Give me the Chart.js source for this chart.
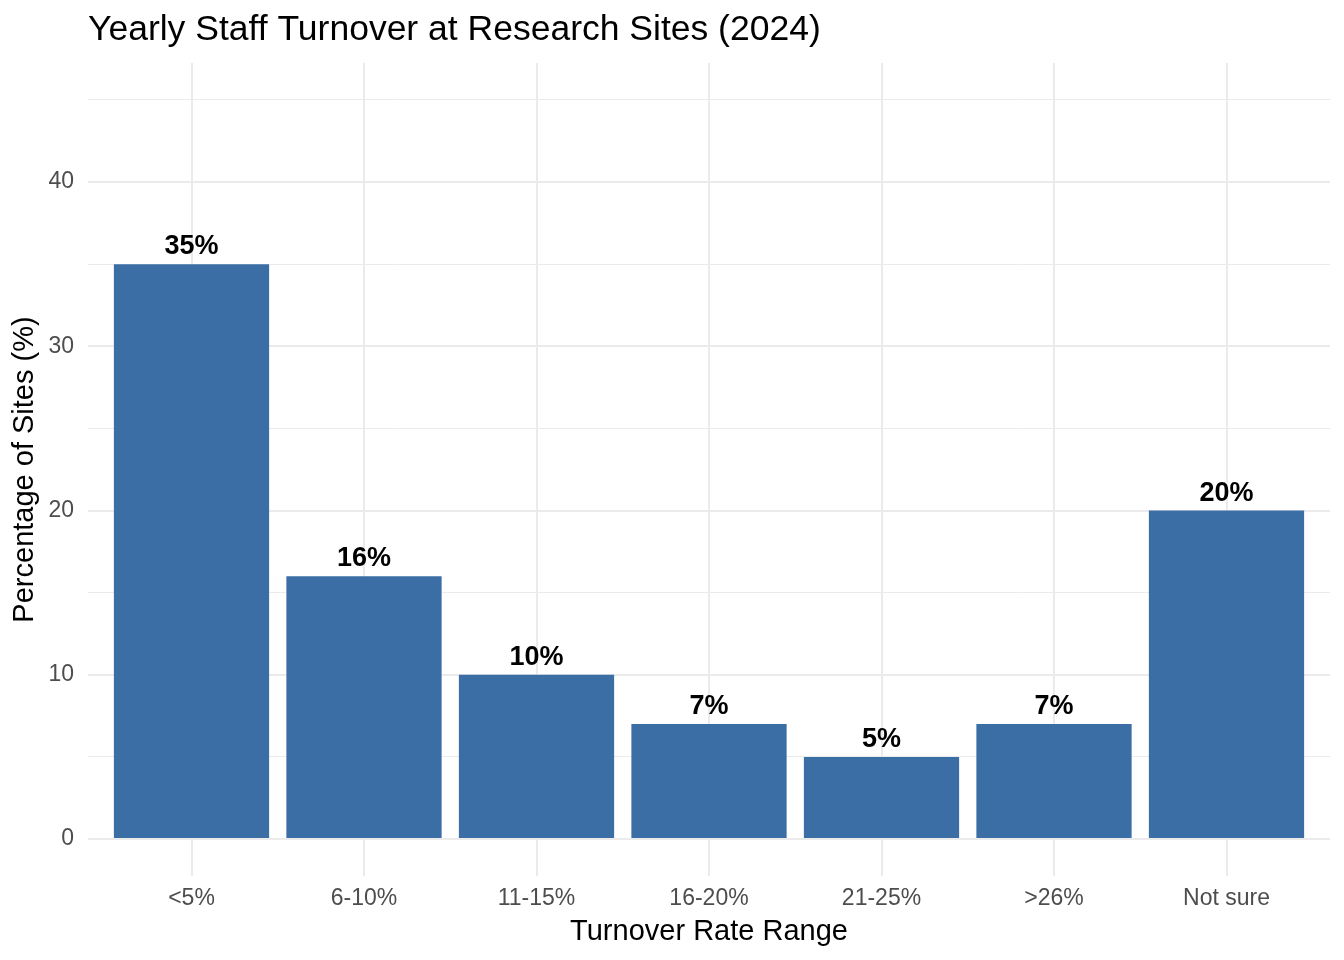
<!DOCTYPE html>
<html>
<head>
<meta charset="utf-8">
<script src="https://cdn.jsdelivr.net/npm/chart.js@4"></script>
<style>
html,body{margin:0;padding:0;background:#fff;}
#wrap{width:1344px;height:960px;position:relative;}
</style>
</head>
<body>
<div id="wrap"><canvas id="c"></canvas></div>
<script>
const categories = ["<5%", "6-10%", "11-15%", "16-20%", "21-25%", ">26%", "Not sure"];
const values = [35, 16, 10, 7, 5, 7, 20];
const yTicks = [0, 5, 10, 15, 20, 25, 30, 35, 40, 45];
const yLabelTicks = [0, 10, 20, 30, 40];

const FONT = "'Liberation Sans', Arial, Helvetica, sans-serif";

const barLabels = {
  id: 'barLabels',
  afterDatasetsDraw(chart) {
    const ctx = chart.ctx;
    const meta = chart.getDatasetMeta(0);
    ctx.save();
    ctx.fillStyle = '#000000';
    ctx.font = 'bold 27px ' + FONT;
    ctx.textAlign = 'center';
    ctx.textBaseline = 'alphabetic';
    meta.data.forEach((bar, i) => {
      ctx.fillText(values[i] + '%', bar.x, bar.y - 10);
    });
    ctx.restore();
  }
};

new Chart(document.getElementById('c'), {
  type: 'bar',
  data: {
    datasets: [{
      data: values.map((v, i) => ({x: i, y: v})),
      backgroundColor: '#3A6EA5',
      borderWidth: 0,
      barPercentage: 0.9,
      categoryPercentage: 1.0
    }]
  },
  options: {
    responsive: true,
    maintainAspectRatio: false,
    animation: false,
    layout: {padding: {left: 0, right: 14, top: 0, bottom: 0}},
    plugins: {
      legend: {display: false},
      tooltip: {enabled: false},
      title: {
        display: true,
        text: 'Yearly Staff Turnover at Research Sites (2024)',
        align: 'start',
        fullSize: false,
        color: '#000000',
        font: {family: FONT, size: 35.5, weight: 'normal'},
        padding: {top: 9, bottom: 11.4}
      }
    },
    scales: {
      x: {
        type: 'linear',
        min: -0.6,
        max: 6.6,
        offset: false,
        afterBuildTicks(scale) { scale.ticks = categories.map((c, i) => ({value: i})); },
        afterFit(scale) { scale.height = 84; },
        ticks: {
          autoSkip: false,
          maxRotation: 0,
          padding: 9,
          color: '#4D4D4D',
          font: {family: FONT, size: 23},
          callback: (v) => categories[v]
        },
        grid: {color: '#EBEBEB', lineWidth: 2, drawTicks: false, offset: false},
        border: {display: false},
        title: {
          display: true,
          text: 'Turnover Rate Range',
          color: '#000000',
          font: {family: FONT, size: 29},
          padding: {top: 0, bottom: 11}
        }
      },
      y: {
        min: -2.25,
        max: 47.25,
        afterBuildTicks(scale) { scale.ticks = yTicks.map(v => ({value: v})); },
        afterFit(scale) { scale.width = 88; },
        ticks: {
          padding: 14,
          color: '#4D4D4D',
          font: {family: FONT, size: 23},
          callback: (v) => yLabelTicks.includes(v) ? String(v) : ''
        },
        grid: {
          color: '#EBEBEB',
          lineWidth: (ctx) => (ctx.tick && yLabelTicks.includes(ctx.tick.value)) ? 2 : 1,
          drawTicks: false
        },
        border: {display: false},
        title: {
          display: true,
          text: 'Percentage of Sites (%)',
          color: '#000000',
          font: {family: FONT, size: 29},
          padding: {top: 8, bottom: 0}
        }
      }
    }
  },
  plugins: [barLabels]
});
</script>
</body>
</html>
